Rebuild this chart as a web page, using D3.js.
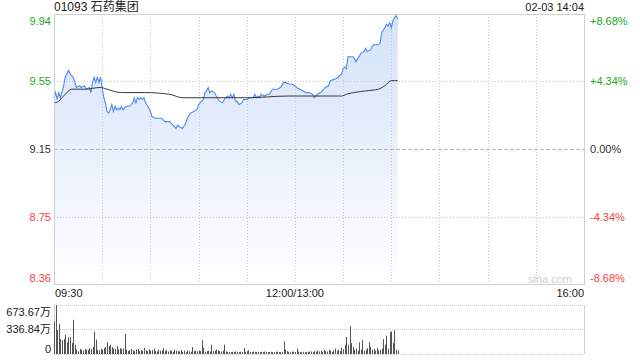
<!DOCTYPE html>
<html>
<head>
<meta charset="utf-8">
<script src="https://cdn.jsdelivr.net/npm/d3@7"></script>
<style>
  body { margin: 0; background: #fff; }
  svg { display: block; font-family: "Liberation Sans", Arial, "Noto Sans CJK SC", sans-serif; }
</style>
</head>
<body>
<svg id="chart" width="640" height="360"></svg>
<script>
const title = '01093 石药集团';
const stamp = '02-03 14:04';
const prevClose = 9.15;

// price ticks (left) and matching percent labels (right)
const priceTicks = [9.94, 9.55, 9.15, 8.75, 8.36];
const pctTicks = ['+8.68%', '+4.34%', '0.00%', '-4.34%', '-8.68%'];
const timeLabels = ['09:30', '12:00/13:00', '16:00'];
const volTicks = [673.67, 336.84, 0];
const volLabels = ['673.67万', '336.84万', '0'];

// minutes since 09:30 (trading minutes, lunch removed) and price
const priceMinutes = [0, 1, 2, 3, 4, 6, 7, 9, 10, 11, 12, 13, 14, 16, 17, 19, 20, 22, 23, 24,
  25, 26, 27, 28, 29, 30, 31, 32, 33, 34, 35, 36, 37, 38, 39, 40, 41, 42, 43, 45,
  47, 49, 50, 51, 52, 53, 54, 55, 56, 57, 59, 60, 61, 63, 65, 67, 69, 72, 73, 74,
  76, 77, 78, 80, 82, 83, 85, 87, 89, 90, 92, 93, 94, 95, 96, 97, 98, 100, 101, 103,
  105, 106, 108, 109, 110, 111, 112, 113, 114, 115, 117, 118, 120, 122, 124, 125, 126, 127, 128, 129,
  131, 133, 134, 136, 139, 141, 143, 144, 146, 148, 150, 151, 153, 155, 157, 159, 161, 162, 164, 166,
  167, 169, 171, 172, 175, 177, 179, 180, 181, 182, 183, 184, 186, 187, 188, 189, 190, 191, 193, 194,
  195, 197, 198, 199, 200, 202, 203, 204, 206, 207, 208, 209, 210, 211, 212, 213, 214];
const prices = [9.45, 9.48, 9.44, 9.48, 9.45, 9.52, 9.57, 9.61, 9.59, 9.58, 9.57, 9.54, 9.51, 9.52, 9.51, 9.52, 9.50, 9.51, 9.48, 9.54,
  9.57, 9.54, 9.57, 9.54, 9.57, 9.51, 9.45, 9.42, 9.37, 9.36, 9.38, 9.41, 9.37, 9.40, 9.38, 9.39, 9.38, 9.40, 9.38, 9.40,
  9.40, 9.42, 9.45, 9.42, 9.45, 9.44, 9.45, 9.44, 9.45, 9.42, 9.39, 9.37, 9.34, 9.33, 9.33, 9.33, 9.31, 9.31, 9.30, 9.29,
  9.27, 9.29, 9.28, 9.27, 9.30, 9.33, 9.36, 9.37, 9.38, 9.41, 9.43, 9.44, 9.48, 9.49, 9.51, 9.48, 9.49, 9.48, 9.46, 9.43,
  9.42, 9.44, 9.46, 9.45, 9.47, 9.45, 9.47, 9.43, 9.43, 9.41, 9.42, 9.44, 9.44, 9.45, 9.45, 9.47, 9.45, 9.46, 9.45, 9.47,
  9.46, 9.47, 9.47, 9.50, 9.50, 9.51, 9.54, 9.54, 9.53, 9.53, 9.52, 9.51, 9.50, 9.49, 9.48, 9.48, 9.47, 9.45, 9.47, 9.48,
  9.49, 9.51, 9.52, 9.55, 9.56, 9.57, 9.59, 9.62, 9.63, 9.62, 9.69, 9.69, 9.69, 9.68, 9.66, 9.68, 9.69, 9.71, 9.72, 9.74,
  9.72, 9.73, 9.75, 9.76, 9.76, 9.76, 9.77, 9.83, 9.86, 9.88, 9.87, 9.89, 9.86, 9.90, 9.92, 9.93, 9.91];

// average price line
const avgMinutes = [0, 3, 5, 8, 11, 19, 29, 33, 42, 57, 72, 80, 97, 120, 146, 179, 182, 194, 202, 206, 210, 212, 214];
const avgPrices = [9.42, 9.43, 9.45, 9.48, 9.50, 9.50, 9.51, 9.50, 9.48, 9.48, 9.47, 9.45, 9.45, 9.45, 9.46, 9.46, 9.47, 9.49, 9.50, 9.52, 9.55, 9.55, 9.55];

// volume per minute, in 万
const volumes = [
  448, 673, 330, 413, 206, 190, 206, 265, 160, 230, 234, 150, 470, 128, 60,
  36, 68, 60, 50, 68, 60, 55, 80, 68, 95, 310, 197, 60, 50, 68,
  60, 80, 95, 160, 110, 128, 95, 75, 68, 110, 60, 80, 68, 75, 275,
  60, 40, 55, 70, 50, 45, 60, 70, 40, 55, 45, 85, 50, 40, 65,
  45, 55, 75, 40, 35, 60, 45, 50, 80, 40, 55, 35, 50, 45, 30,
  60, 45, 40, 35, 55, 30, 45, 25, 50, 40, 30, 95, 40, 45, 35,
  50, 40, 188, 84, 30, 40, 45, 35, 128, 40, 45, 60, 50, 40, 35,
  45, 128, 35, 30, 28, 25, 30, 28, 35, 30, 25, 32, 28, 82, 30,
  40, 50, 30, 25, 35, 30, 28, 32, 25, 30, 28, 35, 30, 25, 28,
  30, 25, 28, 32, 30, 28, 25, 30, 174, 60, 40, 30, 25, 35, 30,
  28, 75, 35, 28, 25, 30, 28, 25, 32, 30, 35, 28, 40, 30, 50,
  35, 45, 30, 55, 40, 35, 60, 45, 30, 50, 75, 45, 60, 40, 90,
  65, 128, 234, 128, 380, 150, 100, 60, 75, 45, 160, 60, 190, 45, 60,
  80, 160, 100, 60, 70, 45, 80, 50, 60, 75, 206, 128, 250, 75, 300,
  310, 150, 327, 60, 50
];

const green = '#22a822';
const red = '#f0443c';
const gridColor = '#c8c8c8';

const svg = d3.select('#chart');
const plotL = 54, plotR = 584, plotT = 14, plotB = 284;
const volT = 305, volB = 354;

const x = d3.scaleLinear().domain([0, 330]).range([plotL, plotR]);
const y = d3.scaleLinear().domain([8.36, 9.94]).range([plotB, plotT]);
const yv = d3.scaleLinear().domain([0, 673.67]).range([volB, volT]);

function labelColor(v) {
  if (Math.abs(v - prevClose) < 0.001) return '#333';
  return v > prevClose ? green : red;
}

// gradient for area
const grad = svg.append('defs').append('linearGradient')
  .attr('id', 'areaGrad')
  .attr('gradientUnits', 'userSpaceOnUse')
  .attr('x1', 0).attr('y1', plotT).attr('x2', 0).attr('y2', plotB);
grad.append('stop').attr('offset', '0%').attr('stop-color', '#d3e1f9');
grad.append('stop').attr('offset', '100%').attr('stop-color', '#ffffff');

// price area first, grid drawn over it
const pts = priceMinutes.map((m, i) => [m, prices[i]]);
const area = d3.area()
  .x(d => x(d[0]))
  .y0(plotB)
  .y1(d => y(d[1]));
svg.append('path')
  .datum(pts)
  .attr('d', area)
  .attr('fill', 'url(#areaGrad)');

// vertical grid every 30 min
const gridMins = d3.range(30, 330, 30);
svg.append('g').selectAll('line')
  .data(gridMins)
  .enter()
  .append('line')
  .attr('x1', d => Math.round(x(d)) + 0.5).attr('x2', d => Math.round(x(d)) + 0.5)
  .attr('y1', plotT).attr('y2', plotB)
  .attr('stroke', gridColor)
  .attr('stroke-dasharray', '1,2');

// horizontal grid
svg.append('g').selectAll('line')
  .data(priceTicks.slice(1, 4))
  .enter()
  .append('line')
  .attr('x1', plotL).attr('x2', plotR)
  .attr('y1', d => Math.round(y(d)) + 0.5).attr('y2', d => Math.round(y(d)) + 0.5)
  .attr('stroke', d => d === prevClose ? '#b4b4b4' : gridColor)
  .attr('stroke-dasharray', d => d === prevClose ? '4,2' : '1,2');

svg.append('path')
  .datum(pts)
  .attr('d', d3.line().x(d => x(d[0])).y(d => y(d[1])))
  .attr('fill', 'none')
  .attr('stroke', '#4d8bf0')
  .attr('stroke-width', 1.1);

const avgPts = avgMinutes.map((m, i) => [m, avgPrices[i]]);
svg.append('path')
  .datum(avgPts)
  .attr('d', d3.line().curve(d3.curveMonotoneX).x(d => x(d[0])).y(d => y(d[1])))
  .attr('fill', 'none')
  .attr('stroke', '#383838')
  .attr('stroke-width', 1);

// frame
svg.append('rect')
  .attr('x', plotL + 0.5).attr('y', plotT + 0.5)
  .attr('width', plotR - plotL).attr('height', plotB - plotT)
  .attr('fill', 'none')
  .attr('stroke', '#cfcfcf');

// watermark
svg.append('text')
  .attr('x', plotR - 12).attr('y', plotB - 1)
  .attr('text-anchor', 'end')
  .attr('font-size', 11)
  .attr('fill', '#d0d0d0')
  .text('sina.com');

// left price labels
const labelY = (d, i) => i === 0 ? y(d) + 11 : (i === priceTicks.length - 1 ? y(d) - 2 : y(d) + 4);
svg.append('g').selectAll('text')
  .data(priceTicks)
  .enter()
  .append('text')
  .attr('x', 51)
  .attr('y', labelY)
  .attr('text-anchor', 'end')
  .attr('font-size', 11)
  .attr('fill', d => labelColor(d))
  .text(d => d.toFixed(2));

// right percent labels
svg.append('g').selectAll('text')
  .data(priceTicks)
  .enter()
  .append('text')
  .attr('x', 590)
  .attr('y', labelY)
  .attr('font-size', 11)
  .attr('fill', d => labelColor(d))
  .text((d, i) => pctTicks[i]);

// title and timestamp
svg.append('text')
  .attr('x', 54).attr('y', 11)
  .attr('font-size', 12)
  .attr('fill', '#222')
  .text(title);
svg.append('text')
  .attr('x', plotR).attr('y', 11)
  .attr('text-anchor', 'end')
  .attr('font-size', 11)
  .attr('fill', '#222')
  .text(stamp);

// time labels
svg.append('text').attr('x', plotL + 1).attr('y', 297).attr('font-size', 11).attr('fill', '#222').text(timeLabels[0]);
svg.append('text').attr('x', x(150)).attr('y', 297).attr('text-anchor', 'middle').attr('font-size', 11).attr('fill', '#222').text(timeLabels[1]);
svg.append('text').attr('x', plotR).attr('y', 297).attr('text-anchor', 'end').attr('font-size', 11).attr('fill', '#222').text(timeLabels[2]);

// volume panel
svg.append('g').selectAll('line')
  .data(volTicks)
  .enter()
  .append('line')
  .attr('x1', plotL).attr('x2', plotR)
  .attr('y1', d => Math.round(yv(d)) + 0.5).attr('y2', d => Math.round(yv(d)) + 0.5)
  .attr('stroke', gridColor)
  .attr('stroke-dasharray', '1,1');
svg.append('line')
  .attr('x1', plotL + 0.5).attr('x2', plotL + 0.5)
  .attr('y1', volT).attr('y2', volB)
  .attr('stroke', '#cfcfcf');
svg.append('line')
  .attr('x1', plotR + 0.5).attr('x2', plotR + 0.5)
  .attr('y1', volT).attr('y2', volB)
  .attr('stroke', '#cfcfcf');

svg.append('g').selectAll('line')
  .data(volumes)
  .enter()
  .append('line')
  .attr('x1', (d, i) => Math.round(x(i)) + 0.5)
  .attr('x2', (d, i) => Math.round(x(i)) + 0.5)
  .attr('y1', volB)
  .attr('y2', d => yv(d))
  .attr('stroke', '#555')
  .attr('stroke-width', 1);

svg.append('g').selectAll('text')
  .data(volTicks)
  .enter()
  .append('text')
  .attr('x', 51)
  .attr('y', (d, i) => i === 0 ? yv(d) + 11 : (i === 2 ? yv(d) - 1 : yv(d) + 4))
  .attr('text-anchor', 'end')
  .attr('font-size', 11)
  .attr('fill', '#222')
  .text((d, i) => volLabels[i]);
</script>
</body>
</html>
